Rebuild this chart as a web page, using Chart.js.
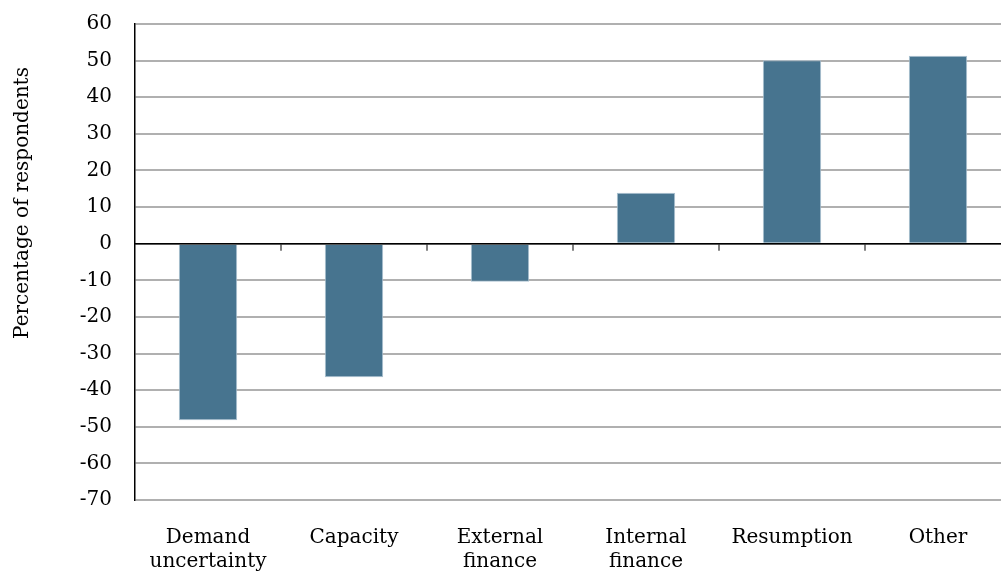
<!DOCTYPE html>
<html lang="en">
<head>
<meta charset="UTF-8">
<title>Percentage of respondents</title>
<script src="https://cdn.jsdelivr.net/npm/chart.js"></script>
<style>
  html, body { margin: 0; padding: 0; overflow: hidden; background: #fff; }
  #wrap { width: 1015px; height: 595px; position: relative; }
</style>
</head>
<body>
<div id="wrap"><canvas id="reasons"></canvas></div>
<script>
const categories = [['Demand', 'uncertainty'], 'Capacity', ['External', 'finance'], ['Internal', 'finance'], 'Resumption', 'Other'];
const values = [-48.2, -36.5, -10.4, 13.9, 50.1, 51.3];
const yMin = -70;
const yMax = 60;
const yStep = 10;
const yTitle = 'Percentage of respondents';

const FONT = 'DejaVu Serif';

// short tick marks hanging under the zero line, between categories
const zeroTicks = {
  id: 'zeroTicks',
  afterDatasetsDraw(chart) {
    const x = chart.scales.x, y = chart.scales.y;
    const y0 = y.getPixelForValue(0);
    const ctx = chart.ctx;
    ctx.save();
    ctx.strokeStyle = '#808080';
    ctx.lineWidth = 2;
    for (let i = 1; i < categories.length; i++) {
      const px = Math.round((x.getPixelForValue(i - 1) + x.getPixelForValue(i)) / 2);
      ctx.beginPath();
      ctx.moveTo(px, y0);
      ctx.lineTo(px, y0 + 7);
      ctx.stroke();
    }
    // zero line drawn on top of the bars
    ctx.strokeStyle = '#000';
    ctx.lineWidth = 1.5;
    ctx.beginPath();
    ctx.moveTo(chart.chartArea.left, y0);
    ctx.lineTo(chart.chartArea.right, y0);
    ctx.stroke();
    ctx.restore();
  }
};

// vertical axis title, placed like the original
const sideTitle = {
  id: 'sideTitle',
  afterDraw(chart) {
    const ctx = chart.ctx;
    ctx.save();
    ctx.translate(23, 203);
    ctx.rotate(-Math.PI / 2);
    ctx.font = '20px "' + FONT + '"';
    ctx.fillStyle = '#000';
    ctx.textAlign = 'center';
    ctx.textBaseline = 'middle';
    ctx.fillText(yTitle, 0, 0);
    ctx.restore();
  }
};

const ctx = document.getElementById('reasons').getContext('2d');

new Chart(ctx, {
  type: 'bar',
  data: {
    labels: categories,
    datasets: [{
      data: values,
      backgroundColor: '#47748f',
      borderColor: '#a9c0d0',
      borderWidth: 1,
      barPercentage: 0.4,
      categoryPercentage: 1
    }]
  },
  options: {
    responsive: true,
    maintainAspectRatio: false,
    animation: false,
    layout: { padding: { top: 24, right: 4, left: 0, bottom: 0 } },
    plugins: {
      legend: { display: false },
      tooltip: { enabled: false }
    },
    scales: {
      x: {
        grid: { display: false, drawTicks: false },
        border: { display: false },
        ticks: {
          color: '#000',
          padding: 26,
          font: { family: FONT, size: 20, lineHeight: 1.2 }
        },
        afterFit(scale) { scale.height = 95; }
      },
      y: {
        min: yMin,
        max: yMax,
        ticks: {
          stepSize: yStep,
          color: '#000',
          padding: 23,
          font: { family: FONT, size: 20 }
        },
        grid: {
          color: '#b0b0b0',
          lineWidth: 2,
          drawTicks: false
        },
        border: { color: '#000', width: 1.5 },
        afterFit(scale) {
          scale.width = 135;
          // keep the plot top fixed, the label overhang is allowed
          scale.paddingTop = 0;
          scale.paddingBottom = 0;
        }
      }
    }
  },
  plugins: [zeroTicks, sideTitle]
});
</script>
</body>
</html>
